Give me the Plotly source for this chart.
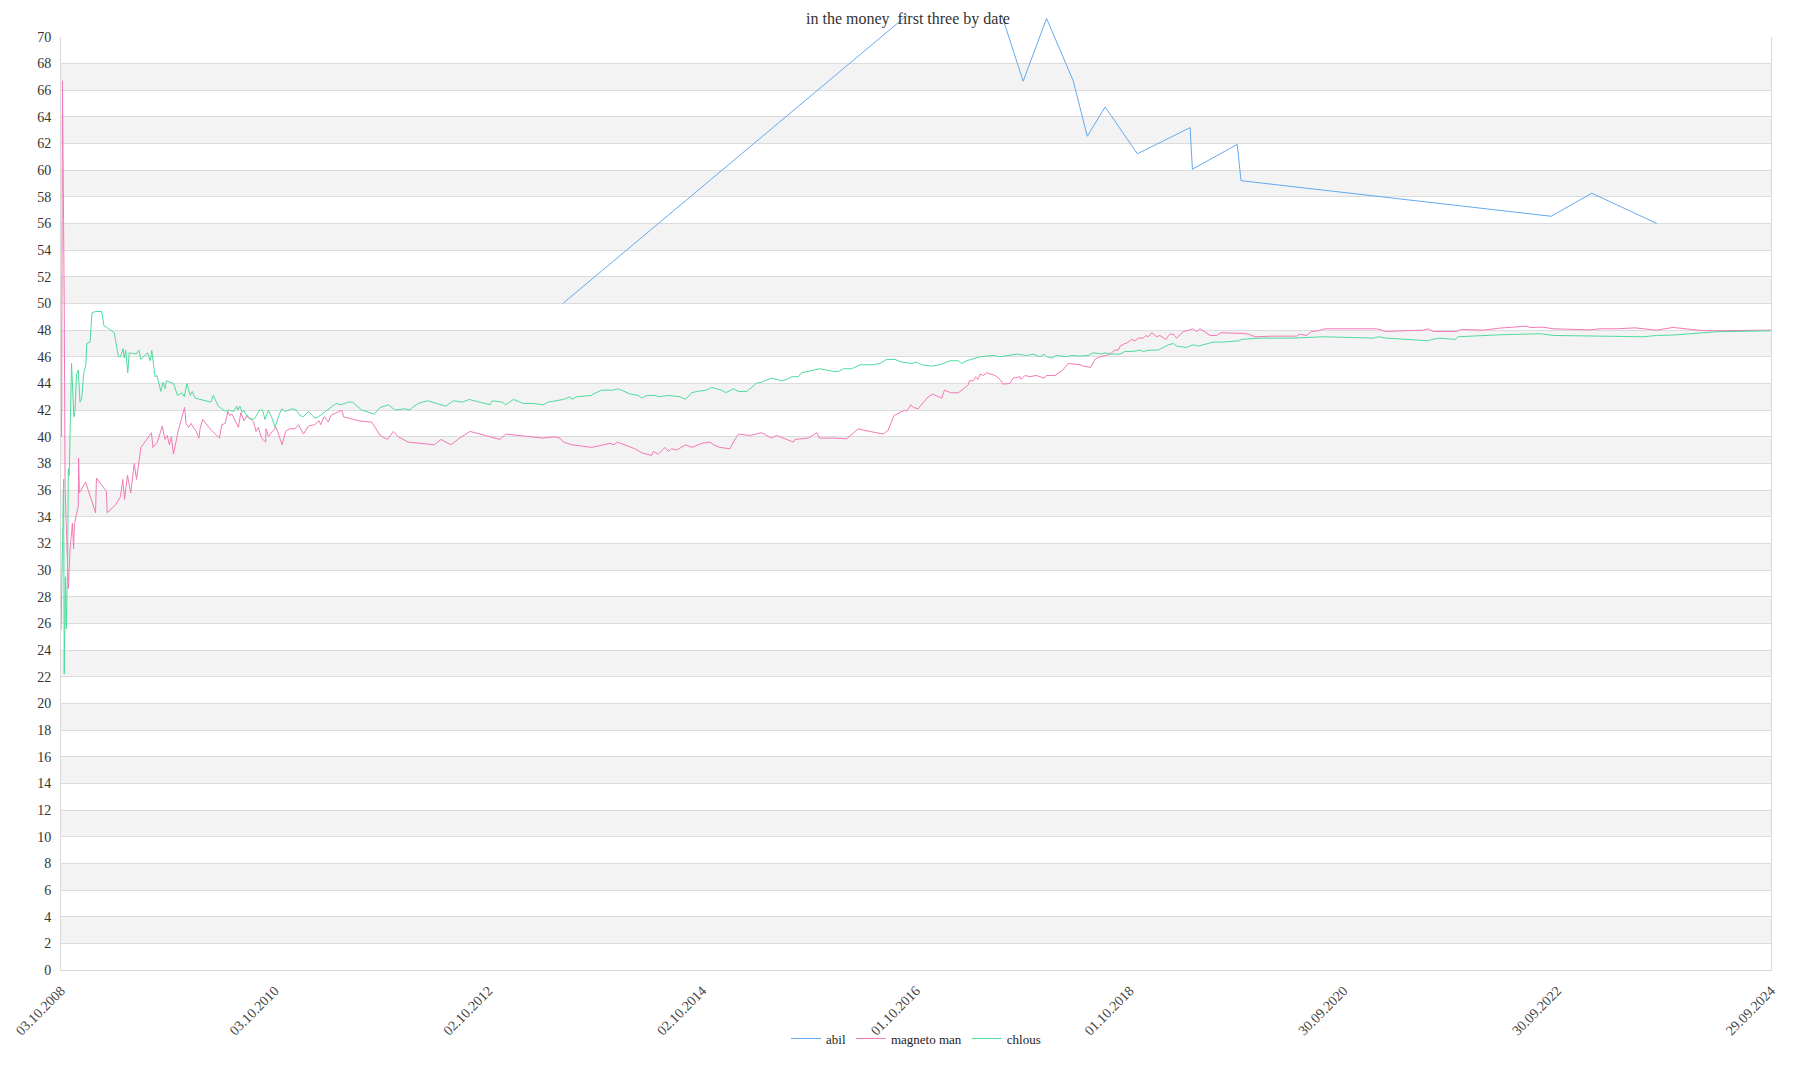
import pandas as pd
import plotly.graph_objects as go

# day offsets counted from the first race date
start = pd.Timestamp("2008-10-03")

abil_days = [1714, 3144, 3286, 3366, 3457, 3505, 3566, 3676, 3856, 3864, 4017, 4030, 5089, 5228, 5450]
abil_vals = [50.0, 76.3, 66.67, 71.38, 66.7, 62.54, 64.74, 61.23, 63.19, 60.07, 61.93, 59.21, 56.54, 58.27, 56.0]

magneto_days = [2, 5, 11, 14, 25, 31, 39, 43, 46, 59, 60, 63, 84, 118, 121, 155, 158, 187, 203, 211,
                217, 227, 238, 250, 258, 273, 309, 314, 329, 346, 355, 363, 370, 377, 384, 401, 422, 427, 436, 444,
                455, 462, 471, 475, 484, 509, 541, 549, 561, 570, 576, 584, 606, 614, 625, 635, 658, 666, 674, 685,
                699, 700, 709, 721, 735, 742, 755, 767, 781, 799, 811, 828, 845, 865, 882, 887, 899, 913, 922, 959,
                965, 1016, 1061, 1090, 1115, 1135, 1152, 1186, 1275, 1298, 1331, 1368, 1397, 1499, 1519, 1645, 1687,
                1704, 1716, 1744, 1812, 1875, 1889, 1900, 1960, 1983, 2017, 2023, 2040, 2063, 2074, 2086, 2103, 2133,
                2154, 2188, 2216, 2228, 2251, 2285, 2296, 2314, 2353, 2393, 2427, 2444, 2501, 2507, 2552, 2581, 2590,
                2638, 2683, 2723, 2740, 2808, 2825, 2845, 2865, 2882, 2888, 2902, 2911, 2928, 2934, 2962, 2977, 3008,
                3017, 3030, 3038, 3065, 3082, 3099, 3102, 3116, 3124, 3131, 3139, 3150, 3161, 3190, 3207, 3218, 3241,
                3252, 3275, 3279, 3292, 3309, 3330, 3343, 3358, 3366, 3395,
                3421, 3440, 3480, 3491, 3516, 3531, 3548, 3560, 3571, 3588, 3599, 3611, 3617, 3634, 3639, 3656, 3668,
                3679, 3696, 3705, 3713, 3725, 3742, 3753, 3773, 3787, 3799, 3810, 3833, 3853, 3865, 3878, 3890, 3924,
                3947, 3961, 4004, 4038, 4055, 4078, 4140, 4220, 4231, 4254, 4271, 4294, 4317, 4482, 4493, 4510, 4522,
                4653, 4670, 4687, 4766, 4783, 4857, 4914,
                5005, 5017, 5062, 5096, 5222, 5256, 5313, 5375, 5449, 5506, 5597, 5654, 5840]
magneto_vals = [40.0, 66.7, 50.0, 36.1, 28.6, 31.6, 33.5, 31.6, 33.5, 34.8, 38.4, 35.8, 36.6, 34.3, 36.9, 35.9, 34.3, 34.9, 35.5, 36.8,
                35.3, 37.1, 35.8, 38.0, 36.8, 39.2, 40.3, 39.2, 39.6, 40.8, 39.8, 40.1, 39.4, 40.0, 38.7, 40.5, 42.2, 41.0, 40.7, 41.0,
                40.6, 40.4, 39.9, 40.6, 41.3, 40.6, 39.9, 40.9, 41.0, 41.9, 41.6, 41.7, 40.7, 41.8, 41.2, 41.6, 41.1, 40.4, 40.7, 39.9,
                39.6, 40.6, 40.0, 40.4, 40.7, 40.2, 39.4, 40.4, 40.6, 40.6, 40.9, 40.2, 40.8, 40.9, 41.2, 40.9, 41.5, 41.1, 41.6, 42.0,
                41.5, 41.2, 41.1, 40.1, 39.8, 40.4, 40.0, 39.6, 39.4, 39.8, 39.4, 40.0, 40.4, 39.8, 40.2, 39.9, 40.0,
                39.9, 39.6, 39.4, 39.2, 39.5, 39.4, 39.6, 39.1, 38.8, 38.6, 38.9, 38.7, 39.2, 38.9, 39.1, 39.0, 39.4,
                39.2, 39.5, 39.6, 39.4, 39.2, 39.1, 39.6, 40.2, 40.1, 40.3, 39.9, 40.1, 39.6, 39.8, 39.9, 40.3, 39.9,
                39.9, 39.85, 40.6, 40.5, 40.2, 40.5, 41.6, 41.8, 42.0, 41.9, 42.4, 42.2, 42.1, 42.3, 43.0, 43.2, 42.9,
                43.5, 43.4, 43.3, 43.3, 43.6, 43.9, 44.2, 44.2, 44.5, 44.3, 44.7, 44.6, 44.8, 44.6, 44.3, 43.95, 44.0,
                44.4, 44.5, 44.3, 44.6, 44.5, 44.6, 44.5, 44.4, 44.6, 44.6,
                45.0, 45.5, 45.4, 45.3, 45.2, 45.8, 46.0, 46.05, 46.1, 46.3, 46.5, 46.5, 46.8, 47.0, 47.0, 47.3, 47.2,
                47.4, 47.4, 47.6, 47.5, 47.8, 47.5, 47.6, 47.3, 47.7, 47.7, 47.4, 47.9, 48.0, 48.1, 47.9, 48.1, 47.6,
                47.6, 47.8, 47.8, 47.75, 47.7, 47.5, 47.55, 47.55, 47.7, 47.6, 47.9, 47.95, 48.1, 48.1, 48.1, 48.0, 47.9,
                48.0, 48.1, 47.9, 47.9, 48.05, 48.0, 48.15,
                48.3, 48.2, 48.22, 48.1, 48.02, 48.1, 48.1, 48.17, 48.0, 48.2, 47.98, 47.95, 48.0]

chlous_days = [0, 9, 11, 15, 18, 23, 25, 28, 36, 44, 48, 53, 59, 65, 71, 77, 85, 88, 99, 106,
               119, 139, 147, 156, 182, 196, 203, 212, 216, 221, 228, 233, 257, 266, 273, 287, 295, 305, 310, 321,
               328, 332, 341, 348, 355, 360, 372, 384, 398, 412, 421, 430, 441, 448, 458, 512, 520, 537, 549, 563,
               573, 590, 600, 604, 611, 619, 624, 640, 658, 662, 678, 688, 697, 708, 719, 731, 744, 754, 765, 776,
               790, 804, 816, 828, 845, 859, 867, 879, 902, 911, 927, 941, 956, 970, 981, 995, 1010, 1027, 1070, 1090,
               1118, 1141, 1175, 1192, 1200, 1220, 1252, 1281, 1314, 1341, 1371, 1394, 1431, 1465, 1473, 1507, 1519,
               1545, 1579, 1613, 1647, 1664,
               1716, 1738, 1744, 1761, 1812, 1818, 1846, 1886, 1903, 1932, 1945, 1972, 1983, 2000, 2029, 2043, 2074,
               2114, 2133, 2154, 2171, 2205, 2222, 2239, 2256, 2270, 2296, 2313, 2342, 2359, 2374, 2393, 2427, 2461,
               2478, 2495, 2518, 2529, 2547, 2592, 2638, 2655, 2672, 2700, 2729, 2774, 2797, 2820, 2848, 2871, 2905,
               2922, 2939, 2973, 3002, 3036, 3065, 3076, 3093, 3139, 3184, 3207, 3264, 3298, 3321, 3343, 3357, 3366,
               3383, 3400,
               3434, 3451, 3480, 3508, 3525, 3554, 3565, 3582, 3617, 3634, 3662, 3685, 3696, 3719, 3747, 3765, 3782,
               3799, 3810, 3844, 3867, 3884, 3913, 3935, 3964, 4004, 4024, 4032, 4095, 4209, 4311, 4482, 4499, 4527,
               4607, 4670, 4681, 4709, 4761, 4772, 4914,
               5051, 5096, 5222, 5347, 5404, 5449, 5506, 5654, 5840]
chlous_vals = [25.5, 36.8, 22.2, 29.5, 25.6, 31.0, 37.6, 37.1, 45.5, 41.5, 42.0, 44.7, 45.0, 42.6, 42.9, 44.7, 45.4, 47.0, 47.1, 49.3,
               49.4, 49.4, 48.3, 48.2, 47.8, 46.0, 46.0, 46.6, 45.9, 46.5, 44.8, 46.3, 46.2, 46.5, 45.8, 46.1, 46.3, 45.7, 46.5, 44.5,
               44.6, 44.2, 43.4, 44.1, 43.6, 44.2, 44.1, 44.0, 43.1, 43.3, 43.0, 44.0, 43.1, 43.4, 42.9, 42.6, 43.1, 42.3, 42.1, 41.9,
               42.0, 41.9, 42.3, 42.0, 42.3, 41.8, 42.0, 41.4, 41.3, 41.4, 42.0, 42.0, 41.3, 42.0, 41.5, 40.7, 41.6, 42.1, 41.9, 42.0,
               42.1, 42.0, 41.6, 41.5, 41.9, 41.6, 41.4, 41.5, 41.9, 42.0, 42.3, 42.5, 42.4, 42.5, 42.6, 42.6, 42.3, 42.0, 41.7, 42.2,
               42.4, 42.0, 42.1, 42.0, 42.2, 42.5, 42.7, 42.5, 42.3, 42.7, 42.6, 42.8, 42.6, 42.4, 42.7, 42.6, 42.4,
               42.8, 42.5, 42.5, 42.4, 42.6,
               42.8, 43.0, 42.8, 43.0, 43.1, 43.2, 43.5, 43.5, 43.6, 43.3, 43.2, 43.1, 42.9, 43.1, 43.1, 43.0, 43.1,
               43.0, 42.8, 43.3, 43.4, 43.5, 43.7, 43.6, 43.5, 43.3, 43.6, 43.4, 43.4, 43.7, 44.0, 44.1, 44.4, 44.2,
               44.3, 44.5, 44.5, 44.8, 44.9, 45.1, 44.9, 44.9, 45.1, 45.1, 45.4, 45.4, 45.5, 45.8, 45.8, 45.6, 45.5,
               45.6, 45.4, 45.3, 45.4, 45.7, 45.7, 45.5, 45.7, 46.0, 46.1, 46.0, 46.2, 46.1, 46.2, 46.0, 46.2, 46.0,
               45.9, 46.1,
               46.0, 46.1, 46.05, 46.1, 46.3, 46.2, 46.3, 46.2, 46.2, 46.4, 46.4, 46.5, 46.4, 46.5, 46.5, 46.7, 46.9,
               47.0, 46.8, 46.7, 46.9, 46.8, 46.95, 47.1, 47.1, 47.2, 47.2, 47.3, 47.4, 47.4, 47.5, 47.4, 47.5, 47.4,
               47.3, 47.2, 47.3, 47.4, 47.3, 47.5, 47.65,
               47.73, 47.6, 47.56, 47.48, 47.5, 47.6, 47.63, 47.88, 47.95]

tick_dates = ["2008-10-03", "2010-10-03", "2012-10-02", "2014-10-02", "2016-10-01",
              "2018-10-01", "2020-09-30", "2022-09-30", "2024-09-29"]
y_ticks = list(range(0, 72, 2))


def to_dates(days):
    return start + pd.to_timedelta(days, unit="D")


font = "Georgia, 'Liberation Serif', serif"
W, H = 1800, 1080
ml, mr, mt, mb = 53, 37, 0, 118
plot_h = H - mt - mb
top_frac = (plot_h - 22) / plot_h  # main axis stops 22px below the top

fig = go.Figure()
fig.add_trace(go.Scatter(x=to_dates(abil_days), y=abil_vals, name="abil", mode="lines",
                         line=dict(color="#62aaf0", width=1), yaxis="y2"))
fig.add_trace(go.Scatter(x=to_dates(magneto_days), y=magneto_vals, name="magneto man", mode="lines",
                         line=dict(color="#f279b5", width=1)))
fig.add_trace(go.Scatter(x=to_dates(chlous_days), y=chlous_vals, name="chlous", mode="lines",
                         line=dict(color="#4fdb9d", width=1)))

# alternating grey bands
shapes = []
for t in y_ticks:
    if t % 4 == 2:
        shapes.append(dict(type="rect", xref="paper", yref="y", x0=0, x1=1, y0=t, y1=t + 2,
                           fillcolor="#f3f3f3", line=dict(width=0), layer="below"))

fig.update_layout(
    width=W, height=H,
    margin=dict(l=ml, r=mr, t=mt, b=mb),
    paper_bgcolor="white", plot_bgcolor="rgba(0,0,0,0)",
    font=dict(family=font, color="#333333", size=13),
    title=dict(text="in the money\u00a0 first three by date", x=0.5, xanchor="center",
               y=1 - 10 / H, yref="container", yanchor="middle",
               font=dict(family=font, size=16, color="#333333")),
    shapes=shapes,
    showlegend=True,
    legend=dict(orientation="h", x=0.5, xanchor="center", y=-69 / plot_h, yanchor="middle",
                font=dict(family="'Liberation Serif', serif", size=13, color="#222222"),
                itemwidth=30, bgcolor="rgba(0,0,0,0)"),
    xaxis=dict(type="date", range=[tick_dates[0], tick_dates[-1]],
               tickvals=tick_dates,
               ticktext=[pd.Timestamp(d).strftime("%d.%m.%Y") for d in tick_dates],
               tickangle=-45, showgrid=False, zeroline=False,
               showline=True, linecolor="#d9d9d9", ticks="", ticklabelstandoff=6,
               tickfont=dict(family=font, size=14, color="#444444")),
    yaxis=dict(domain=[0, top_frac], range=[0, 70], tickvals=y_ticks, ticks="",
               showgrid=True, gridcolor="#dcdcdc", gridwidth=1, zeroline=False,
               showline=True, linecolor="#d9d9d9", mirror=True, ticklabelstandoff=6,
               tickfont=dict(family=font, size=14, color="#333333")),
    yaxis2=dict(domain=[0, 1], range=[0, 70 / top_frac], anchor="x",
                visible=False, showgrid=False),
)

fig.write_html("out.html")
